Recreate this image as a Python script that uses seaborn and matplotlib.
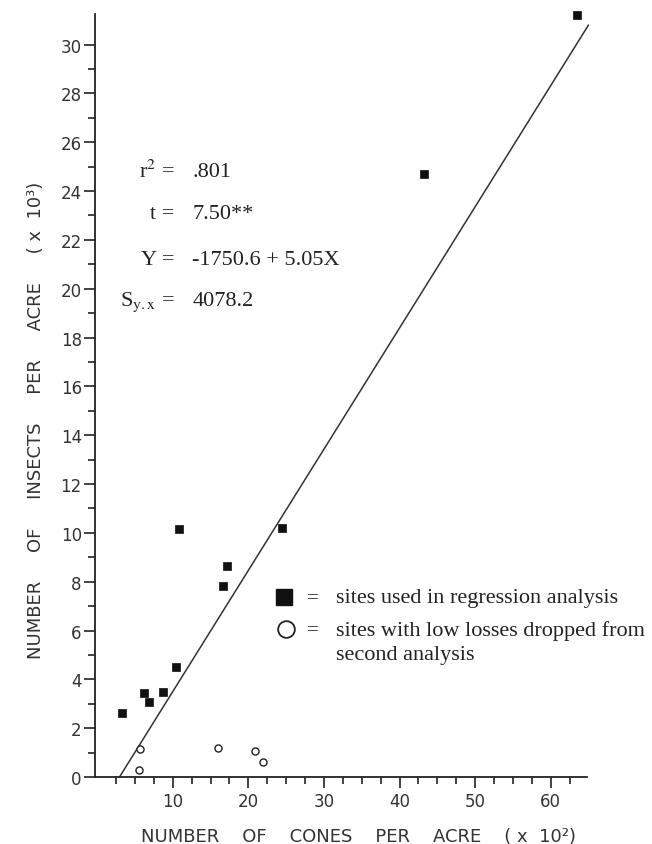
import numpy as np
import pandas as pd
import matplotlib
matplotlib.use("Agg")
import matplotlib.pyplot as plt
from matplotlib.ticker import MultipleLocator, FixedLocator
import seaborn as sns

# Sites used in regression analysis (cones x 10^2, insects x 10^3)
used_cones = [3.3, 6.2, 6.9, 8.7, 10.4, 10.8, 16.6, 17.2, 24.5, 43.3, 63.5]
used_insects = [2.62, 3.43, 3.09, 3.50, 4.50, 10.16, 7.84, 8.66, 10.19, 24.7, 31.2]

# Sites with low losses dropped from second analysis
dropped_cones = [5.7, 5.6, 16.0, 20.9, 22.0]
dropped_insects = [1.14, 0.28, 1.17, 1.06, 0.63]

# Regression line as drawn
line_cones = [2.96, 65.0]
line_insects = [0.0, 30.8]

stats_left = ["r$^2$ =", "t =", "Y =", "S$_{\\mathrm{y{.}x}}$ ="]
stats_right = [".801", "7.50**", "-1750.6 + 5.05X", "4078.2"]
stats_y = [24.6, 22.9, 21.0, 19.35]

legend_labels = ["sites used in regression analysis",
                 "sites with low losses dropped from",
                 "second analysis"]

used_df = pd.DataFrame({"cones": used_cones, "insects": used_insects})
dropped_df = pd.DataFrame({"cones": dropped_cones, "insects": dropped_insects})
line_df = pd.DataFrame({"cones": line_cones, "insects": line_insects})

sns.set_style("ticks")
plt.rcParams['font.family'] = ['DejaVu Sans']
plt.rcParams['mathtext.fontset'] = 'stix'

serif = ["Liberation Serif", "DejaVu Serif"]

fig = plt.figure(figsize=(6.52, 8.45), dpi=100)
ax = fig.add_axes([95 / 652, 1 - 778 / 845, 492 / 652, 763 / 845])

sns.lineplot(data=line_df, x="cones", y="insects", color="#333333", linewidth=1.1,
             ax=ax, clip_on=False)
sns.scatterplot(data=used_df, x="cones", y="insects", marker="s", s=30,
                color="#111111", edgecolor="#111111", linewidth=0.5, ax=ax, clip_on=False, zorder=3)
sns.scatterplot(data=dropped_df, x="cones", y="insects", marker="o", s=26,
                facecolor="white", edgecolor="#222222", linewidth=1.0, ax=ax, zorder=3)

ax.set_xlim(-0.28, 64.8)
ax.set_ylim(0, 31.25)

ax.xaxis.set_major_locator(FixedLocator([10, 20, 30, 40, 50, 60]))
ax.xaxis.set_minor_locator(FixedLocator([2.5, 5, 7.5, 12.5, 15, 17.5, 22.5, 25, 27.5,
                                         32.5, 35, 37.5, 42.5, 45, 47.5, 52.5, 55, 57.5, 62.5]))
ax.yaxis.set_major_locator(MultipleLocator(2))
ax.yaxis.set_minor_locator(FixedLocator(list(range(1, 30, 2))))

ax.tick_params(axis="both", which="major", length=8, width=1.2, labelsize=12, color="#222222",
               labelcolor="#333333")
ax.tick_params(axis="both", which="minor", length=5, width=1.2, color="#222222")
ax.tick_params(axis="y", which="major", pad=1.5)
ax.tick_params(axis="x", which="major", pad=3)
ax.yaxis.get_major_ticks()[0].tick1line.set_visible(False)

sns.despine(ax=ax)
for side in ["left", "bottom"]:
    ax.spines[side].set_linewidth(1.3)
    ax.spines[side].set_color("#222222")

ax.set_xlabel("NUMBER    OF    CONES    PER    ACRE    ( x  10\u00b2)", fontsize=13, color="#333333")
ax.set_ylabel("NUMBER     OF     INSECTS     PER     ACRE     ( x  10\u00b3)", fontsize=13,
              color="#333333")
ax.xaxis.set_label_coords(0.535, -0.066)
ax.yaxis.set_label_coords(-0.102, 0.469)

# regression statistics
for left, right, yv in zip(stats_left, stats_right, stats_y):
    ax.text(10.2, yv, left, ha="right", va="baseline", fontsize=16, family=serif, color="#222222")
    ax.text(12.6, yv, right, ha="left", va="baseline", fontsize=16, family=serif, color="#222222")

# key
ax.plot([24.7], [7.36], marker="s", markersize=11, color="#111111", linestyle="none")
ax.plot([25.0], [6.05], marker="o", markersize=12, markerfacecolor="white",
        markeredgecolor="#222222", markeredgewidth=1.3, linestyle="none")
for yv in [7.36, 6.05]:
    ax.text(28.6, yv, "=", ha="center", va="center", fontsize=15, family=serif, color="#222222")
for label, yv in zip(legend_labels, [7.36, 6.0, 5.0]):
    ax.text(31.6, yv, label, ha="left", va="center", fontsize=16, family=serif,
            color="#222222", clip_on=False)

fig.savefig("out.png", dpi=100)
